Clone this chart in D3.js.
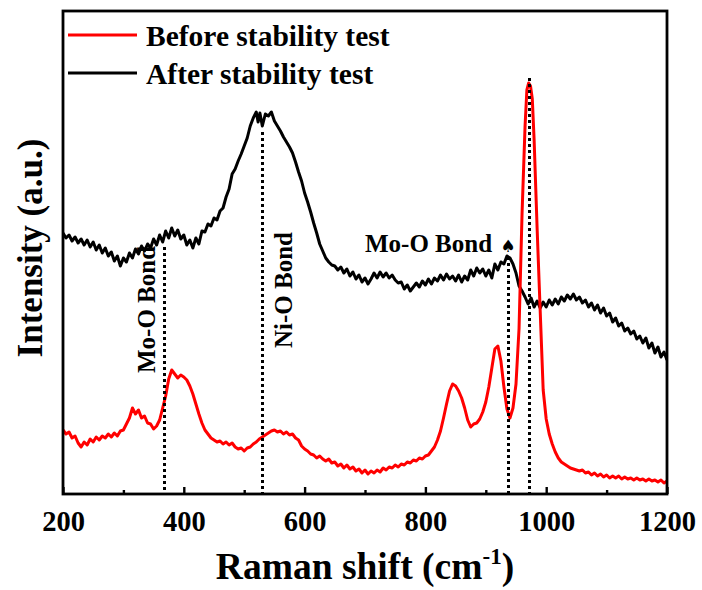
<!DOCTYPE html>
<html><head><meta charset="utf-8">
<script src="https://cdn.jsdelivr.net/npm/d3@7"></script>
<style>body{margin:0;background:#fff}svg{display:block}</style>
</head><body><svg id="c" width="702" height="590"></svg>
<script>
const majorTicks = [200, 400, 600, 800, 1000, 1200];
const minorTicks = [300, 500, 700, 900, 1100];
const seriesNames = ["Before stability test", "After stability test"];
const seriesColors = ["#ff0000", "#000000"];

const beforeShift = [200,205,210,215,220,225,230,235,240,245,250,255,260,265,270,275,280,285,290,295,300,305,310,315,320,325,330,335,340,345,350,355,360,365,370,375,380,385,390,395,400,405,410,415,420,425,430,435,440,445,450,455,460,465,470,475,480,485,490,495,500,505,510,515,520,525,530,535,540,545,550,555,560,565,570,575,580,585,590,595,600,605,610,615,620,625,630,635,640,645,650,655,660,665,670,675,680,685,690,695,700,705,710,715,720,725,730,735,740,745,750,755,760,765,770,775,780,785,790,795,800,805,810,815,820,825,830,835,840,845,850,855,860,865,870,875,880,885,890,895,900,905,910,915,920,925,930,935,940,945,950,955,960,965,968,971,974,977,980,985,990,995,1000,1005,1010,1015,1020,1025,1030,1035,1040,1045,1050,1055,1060,1065,1070,1075,1080,1085,1090,1095,1100,1105,1110,1115,1120,1125,1130,1135,1140,1145,1150,1155,1160,1165,1170,1175,1180,1185,1190,1195,1200];
const beforeIntensity = [64,60,62,56,58,51,47,52,49,55,52,57,54,58,56,60,57,61,58,63,64,70,76,86,80,84,76,78,71,70,65,68,74,86,98,115,124,120,116,119,117,114,108,100,90,80,71,64,60,56,54,52,53,50,52,49,51,47,45,46,43,46,47,50,52,55,57,59,61,63,64,62,63,60,62,59,60,56,54,48,45,43,40,39,36,38,35,33,35,31,32,28,30,26,29,25,27,23,25,21,24,20,23,21,24,22,26,24,27,26,29,27,30,29,32,31,34,33,36,35,38,39,43,47,54,63,76,90,103,110,108,103,96,86,74,67,70,71,75,82,92,107,126,145,148,133,107,85,76,86,110,165,280,368,404,411,408,395,354,265,184,104,75,60,50,42,36,32,30,28,26,25,24,23,24,21,22,19,21,18,20,17,19,16,18,16,18,15,17,15,16,14,16,14,15,13,15,13,14,12,14,11,13];

const afterShift = [200,205,210,215,220,225,230,235,240,245,250,255,260,265,270,275,280,285,290,295,300,305,310,315,320,325,330,335,340,345,350,355,360,365,370,375,380,385,390,395,400,405,410,415,420,425,430,435,440,445,450,455,460,465,470,475,480,485,490,495,500,505,510,515,520,523,526,530,535,540,545,550,555,560,565,570,575,580,585,590,595,600,605,610,615,620,625,630,635,640,645,650,655,660,665,670,675,680,685,690,695,700,705,710,715,720,725,730,735,740,745,750,755,760,765,770,775,780,785,790,795,800,805,810,815,820,825,830,835,840,845,850,855,860,865,870,875,880,885,890,895,900,905,910,915,920,925,930,935,940,945,950,955,960,965,970,975,980,985,990,995,1000,1005,1010,1015,1020,1025,1030,1035,1040,1045,1050,1055,1060,1065,1070,1075,1080,1085,1090,1095,1100,1105,1110,1115,1120,1125,1130,1135,1140,1145,1150,1155,1160,1165,1170,1175,1180,1185,1190,1195,1200];
const afterIntensity = [261,256,259,253,257,251,255,249,254,247,252,244,249,241,246,238,242,233,238,228,236,232,241,236,245,240,248,243,250,246,255,249,259,252,263,256,266,258,264,255,259,249,254,246,256,250,263,262,270,268,276,274,283,286,297,305,320,325,333,340,348,356,368,376,382,372,381,368,380,378,382,373,368,363,357,352,347,341,332,322,313,301,292,282,271,261,250,243,236,232,229,228,224,227,221,225,218,222,215,219,212,216,210,215,221,216,222,217,221,216,219,214,211,212,205,209,203,207,211,207,213,209,215,210,216,213,219,214,220,215,218,213,219,212,218,214,224,218,226,221,225,218,224,216,230,224,232,230,238,236,230,221,208,203,197,190,196,187,193,186,192,187,194,189,195,190,197,193,199,195,200,194,197,191,194,187,191,184,189,181,186,178,181,172,176,168,171,163,166,160,163,155,158,151,156,146,151,141,147,137,142,134];

// annotation markers: position (cm-1) and top of dotted guide (intensity)
const guideShift = [368, 529, 937, 971];
const guideTop = [247, 362, 237, 416];

const svg = d3.select("#c");
const L = 63, R = 667, T = 11, B = 494;
const x = d3.scaleLinear().domain([200, 1200]).range([L, R]);
const y = d3.scaleLinear().domain([0, 483]).range([B, T]);
const serif = "'Liberation Serif','Times New Roman',serif";

svg.append("defs").append("clipPath").attr("id", "clip")
  .append("rect").attr("x", L).attr("y", T).attr("width", R - L).attr("height", B - T);

const line = d3.line().x(d => x(d[0])).y(d => y(d[1]));
const g = svg.append("g").attr("clip-path", "url(#clip)");

// black curve
g.append("path").datum(afterShift.map((v, i) => [v, afterIntensity[i]]))
  .attr("d", line).attr("fill", "none").attr("stroke", seriesColors[1])
  .attr("stroke-width", 3).attr("stroke-linejoin", "round");
// red curve
g.append("path").datum(beforeShift.map((v, i) => [v, beforeIntensity[i]]))
  .attr("d", line).attr("fill", "none").attr("stroke", seriesColors[0])
  .attr("stroke-width", 3).attr("stroke-linejoin", "round");

// dotted guides
guideShift.forEach((s, i) => {
  const px = Math.round(x(s)) + 0.5;
  g.append("line").attr("x1", px).attr("x2", px).attr("y1", y(guideTop[i])).attr("y2", y(0))
    .attr("stroke", "#000").attr("stroke-width", 3).attr("stroke-dasharray", "3,3");
});

// bottom axis ticks (inward)
const xAxis = d3.axisBottom(x).tickValues(majorTicks).tickSizeInner(-7).tickSizeOuter(0).tickPadding(17)
  .tickFormat(d3.format("d"));
const ax = svg.append("g").attr("transform", `translate(0,${B})`).call(xAxis);
ax.select(".domain").remove();
ax.selectAll(".tick line").attr("stroke", "#000").attr("stroke-width", 2.4);
ax.selectAll(".tick text").attr("font-family", serif).attr("font-weight", "bold")
  .attr("font-size", 28.5).attr("fill", "#000");
const axMinor = d3.axisBottom(x).tickValues(minorTicks).tickSizeInner(-4).tickSizeOuter(0).tickFormat("");
const am = svg.append("g").attr("transform", `translate(0,${B})`).call(axMinor);
am.select(".domain").remove();
am.selectAll(".tick line").attr("stroke", "#000").attr("stroke-width", 2.4);

// frame
svg.append("rect").attr("x", L).attr("y", T).attr("width", R - L).attr("height", B - T)
  .attr("fill", "none").attr("stroke", "#000").attr("stroke-width", 2.8);

// axis titles
const xt = svg.append("text").attr("x", (L + R) / 2).attr("y", 579).attr("text-anchor", "middle")
  .attr("font-family", serif).attr("font-weight", "bold").attr("font-size", 37.5).attr("fill", "#000");
xt.append("tspan").text("Raman shift (cm");
xt.append("tspan").attr("font-size", 23).attr("dy", -15).text("-1");
xt.append("tspan").attr("dy", 15).text(")");

svg.append("text").attr("transform", "translate(42,248) rotate(-90)").attr("text-anchor", "middle")
  .attr("font-family", serif).attr("font-weight", "bold").attr("font-size", 35).attr("fill", "#000")
  .text("Intensity (a.u.)");

// legend
const legY = [35, 73];
seriesNames.forEach((n, i) => {
  svg.append("line").attr("x1", 68).attr("x2", 137).attr("y1", legY[i]).attr("y2", legY[i])
    .attr("stroke", seriesColors[i]).attr("stroke-width", 3);
  svg.append("text").attr("x", 146).attr("y", legY[i] + 11).attr("font-family", serif)
    .attr("font-weight", "bold").attr("font-size", 29.5).attr("fill", "#000").text(n);
});

// annotations
const ann = (t, tx, ty, rot) => svg.append("text")
  .attr("transform", `translate(${tx},${ty})` + (rot ? " rotate(-90)" : ""))
  .attr("font-family", serif).attr("font-weight", "bold").attr("font-size", 25).attr("fill", "#000").text(t);
ann("Mo-O Bond", x(368) - 9, 373, true);
ann("Ni-O Bond", x(529) + 30, 348, true);
ann("Mo-O Bond", 365, 252, false);
svg.append("text").attr("x", x(937)).attr("y", 252).attr("text-anchor", "middle")
  .attr("font-family", "'DejaVu Sans',sans-serif").attr("font-size", 17).attr("fill", "#000").text("♠");
</script></body></html>
